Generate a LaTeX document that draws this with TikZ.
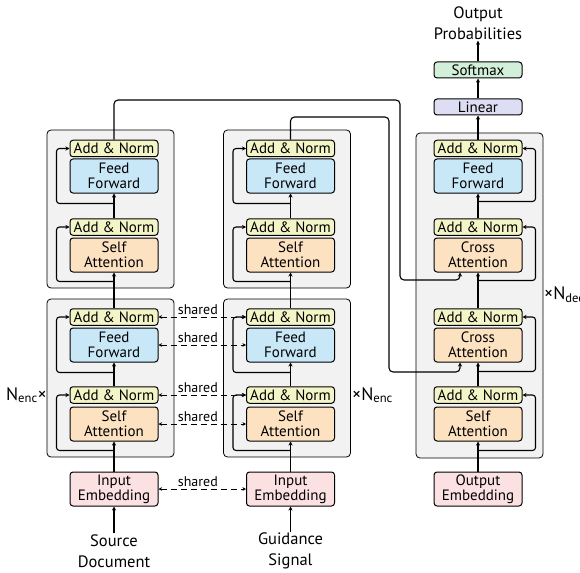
\documentclass[tikz,border=0pt]{standalone}
\usepackage{fontspec}
\setmainfont{PT Sans}
\usetikzlibrary{arrows.meta,positioning}

\definecolor{normcol}{HTML}{F3F5C6}
\definecolor{ffcol}{HTML}{C9E8F7}
\definecolor{attcol}{HTML}{FDE2C2}
\definecolor{embcol}{HTML}{FCE1E3}
\definecolor{lincol}{HTML}{DDDDF3}
\definecolor{smcol}{HTML}{D2EFD9}
\definecolor{stackcol}{HTML}{F2F2F2}

\tikzset{
  blk/.style={draw, line width=1pt, rounded corners=3pt, minimum width=88pt, inner sep=0pt,
    align=center, font=\fontsize{15}{15}\selectfont},
  norm/.style={blk, fill=normcol, minimum height=16.5pt},
  ffn/.style={blk, fill=ffcol, minimum height=34pt},
  attn/.style={blk, fill=attcol, minimum height=34pt},
  embd/.style={blk, fill=embcol, minimum height=34pt},
  stack/.style={draw, fill=stackcol, rounded corners=4pt, line width=0.8pt, inner sep=0pt, minimum width=127pt},
  flow/.style={line width=1.1pt, -{Stealth[length=4pt,width=4pt]}, rounded corners=3pt},
  shared/.style={line width=1pt, dash pattern=on 6pt off 4pt,
    {Stealth[length=3.5pt,width=3.5pt]}-{Stealth[length=3.5pt,width=3.5pt]}},
  bigtxt/.style={align=center, font=\fontsize{16.5}{21}\selectfont, inner sep=1pt},
  shtxt/.style={font=\fontsize{14}{14}\selectfont, inner sep=1.5pt},
  cnt/.style={inner sep=0pt, font=\fontsize{18}{18}\selectfont},
}

\begin{document}
\begin{tikzpicture}[x=1pt,y=-1pt]
\useasboundingbox (0,0) rectangle (580,572);

% stacks
\node[stack, minimum height=158pt] (s2box) at (110.5,209) {};
\node[stack, minimum height=158pt] (s1box) at (110.5,378) {};
\node[stack, minimum height=158pt] (g2box) at (287,209) {};
\node[stack, minimum height=158pt] (g1box) at (287,378) {};
\node[stack, minimum height=325pt] (dbox) at (479.5,295.5) {};

% source column
\node[norm] (s2fn) at (114,148.5) {Add \& Norm};
\node[ffn]  (s2ff) at (114,176) {Feed\\Forward};
\node[norm] (s2an) at (114,227) {Add \& Norm};
\node[attn] (s2sa) at (114,255) {Self\\Attention};
\node[norm] (s1fn) at (114,317) {Add \& Norm};
\node[ffn]  (s1ff) at (114,345) {Feed\\Forward};
\node[norm] (s1an) at (114,395) {Add \& Norm};
\node[attn] (s1sa) at (114,424) {Self\\Attention};
\node[embd] (semb) at (114,489) {Input\\Embedding};
\node[bigtxt] (src) at (114,551) {Source\\Document};

% guidance column
\node[norm] (g2fn) at (290.5,148.5) {Add \& Norm};
\node[ffn]  (g2ff) at (290.5,176) {Feed\\Forward};
\node[norm] (g2an) at (290.5,227) {Add \& Norm};
\node[attn] (g2sa) at (290.5,255) {Self\\Attention};
\node[norm] (g1fn) at (290.5,317) {Add \& Norm};
\node[ffn]  (g1ff) at (290.5,345) {Feed\\Forward};
\node[norm] (g1an) at (290.5,395) {Add \& Norm};
\node[attn] (g1sa) at (290.5,424) {Self\\Attention};
\node[embd] (gemb) at (290.5,489) {Input\\Embedding};
\node[bigtxt] (gdn) at (290.5,551) {Guidance\\Signal};

% decoder column
\node[norm] (dfn)  at (478,148.5) {Add \& Norm};
\node[ffn]  (dff)  at (478,176) {Feed\\Forward};
\node[norm] (dcn2) at (478,227) {Add \& Norm};
\node[attn] (dca2) at (478,255) {Cross\\Attention};
\node[norm] (dcn1) at (478,317) {Add \& Norm};
\node[attn] (dca1) at (478,345) {Cross\\Attention};
\node[norm] (dsn)  at (478,395) {Add \& Norm};
\node[attn] (dsa)  at (478,424) {Self\\Attention};
\node[embd] (demb) at (478,489) {Output\\Embedding};
\node[blk, fill=lincol, minimum height=16pt] (lin) at (478,107) {Linear};
\node[blk, fill=smcol, minimum height=16pt] (smax) at (478,70) {Softmax};
\node[bigtxt] (outp) at (478,23) {Output\\Probabilities};

% repeat counts
\node[cnt, anchor=east] (nenc1) at (47,395) {N\textsubscript{enc}×};
\node[cnt, anchor=west] (nenc2) at (352,395) {×N\textsubscript{enc}};
\node[cnt, anchor=west] (ndec) at (544,295) {×N\textsubscript{dec}};

% main flow
\draw[flow] (src.north) -- (semb.south);
\draw[flow] (gdn.north) -- (gemb.south);
\draw[flow] (semb.north) -- (s1sa.south);
\draw[flow] (gemb.north) -- (g1sa.south);
\draw[flow] (demb.north) -- (dsa.south);
\foreach \col in {s,g}{
  \draw[flow] (\col1an.north) -- (\col1ff.south);
  \draw[flow] (\col1fn.north) -- (\col2sa.south);
  \draw[flow] (\col2an.north) -- (\col2ff.south);
  \foreach \lay in {1,2}{
    \draw[flow] ([yshift=-9pt]\col\lay sa.south) -| ([xshift=-13pt]\col\lay an.west) -- (\col\lay an.west);
    \draw[flow] ([yshift=-10pt]\col\lay ff.south) -| ([xshift=-13pt]\col\lay fn.west) -- (\col\lay fn.west);
  }
}
\draw[flow] (dsn.north) -- (dca1.south);
\draw[flow] (dcn1.north) -- (dca2.south);
\draw[flow] (dcn2.north) -- (dff.south);
\draw[flow] (dfn.north) -- (lin.south);
\draw[flow] (lin.north) -- (smax.south);
\draw[flow] (smax.north) -- (outp.south);
\draw[flow] ([yshift=-9pt]dsa.south) -| ([xshift=13pt]dsn.east) -- (dsn.east);
\draw[flow] ([yshift=-9pt]dca1.south) -| ([xshift=13pt]dcn1.east) -- (dcn1.east);
\draw[flow] ([yshift=-8pt]dca2.south) -| ([xshift=13pt]dcn2.east) -- (dcn2.east);
\draw[flow] ([yshift=-8pt]dff.south) -| ([xshift=13pt]dfn.east) -- (dfn.east);

% encoder outputs into the decoder
\draw[flow, rounded corners=4pt] (s2fn.north) |- (400,100) -- (400,280) -| ([xshift=-18pt]dca2.south);
\draw[flow, rounded corners=4pt] (g2fn.north) |- (389,117) -- (389,372) -| ([xshift=-18pt]dca1.south);

% shared weights
\draw[shared] (s1fn.east) -- node[shtxt, above, pos=0.45] (sh1) {shared} (g1fn.west);
\draw[shared] (s1ff.east) -- node[shtxt, above, pos=0.45] (sh2) {shared} (g1ff.west);
\draw[shared] (s1an.east) -- node[shtxt, above, pos=0.45] (sh3) {shared} (g1an.west);
\draw[shared] (s1sa.east) -- node[shtxt, above, pos=0.45] (sh4) {shared} (g1sa.west);
\draw[shared] (semb.east) -- node[shtxt, above, pos=0.45] (sh5) {shared} (gemb.west);

\end{tikzpicture}
\end{document}
